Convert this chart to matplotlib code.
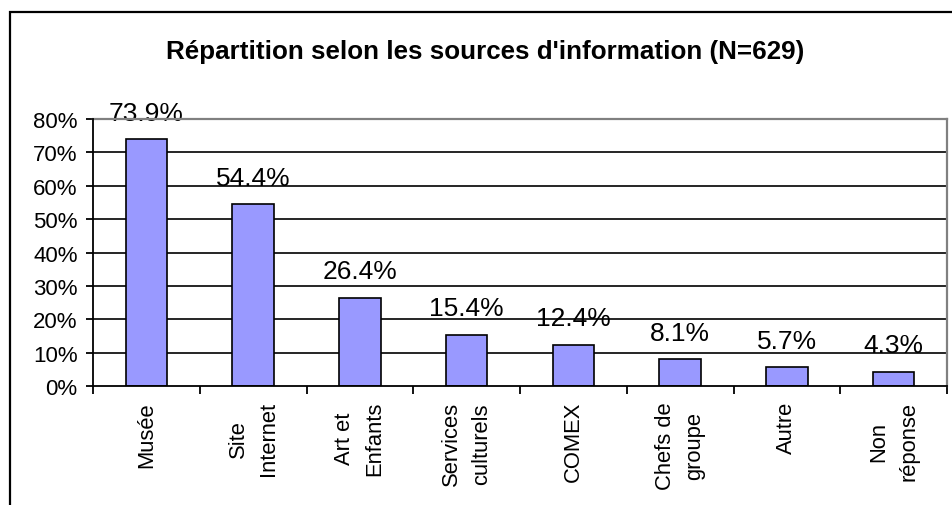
import matplotlib
matplotlib.use("Agg")
import matplotlib.pyplot as plt
from matplotlib.patches import Rectangle
from matplotlib.ticker import MultipleLocator, FuncFormatter

plt.rcParams['font.family'] = ['Liberation Sans', 'DejaVu Sans']

categories = ["Musée", "Site\nInternet", "Art et\nEnfants", "Services\nculturels",
              "COMEX", "Chefs de\ngroupe", "Autre", "Non\nréponse"]
values = [73.9, 54.4, 26.4, 15.4, 12.4, 8.1, 5.7, 4.3]
value_labels = ["73.9%", "54.4%", "26.4%", "15.4%", "12.4%", "8.1%", "5.7%", "4.3%"]
title = "Répartition selon les sources d'information (N=629)"

W, H = 952, 506
fig = plt.figure(figsize=(W / 100, H / 100), dpi=100)

# outer frame (extends beyond right/bottom edges)
fig.patches.append(Rectangle((10 / W, -0.1), 1.2, 1 - 13 / H + 0.1,
                             transform=fig.transFigure, fill=False,
                             edgecolor='black', linewidth=1.6))

left, right = 93 / W, 947 / W
bottom, top = 1 - 387 / H, 1 - 120 / H
ax = fig.add_axes([left, bottom, right - left, top - bottom])

x = list(range(len(categories)))
ax.bar(x, values, width=0.39, color='#9999FF', edgecolor='black', linewidth=1.2, zorder=3)

ax.set_xlim(-0.5, len(categories) - 0.5)
ax.set_ylim(0, 80)
ax.yaxis.set_major_locator(MultipleLocator(10))
ax.yaxis.set_major_formatter(FuncFormatter(lambda v, p: f"{int(round(v))}%"))
ax.set_yticks(range(0, 81, 10))

for yv in range(10, 80, 10):
    ax.axhline(yv, color='black', linewidth=1.2, zorder=2)

for xi, v, lab in zip(x, values, value_labels):
    ax.annotate(lab, (xi, v), xytext=(0, 14), textcoords='offset points',
                ha='center', va='baseline', fontsize=19, zorder=1)

# spines
ax.spines['left'].set_color('black')
ax.spines['left'].set_linewidth(1.3)
ax.spines['bottom'].set_color('black')
ax.spines['bottom'].set_linewidth(1.3)
ax.spines['top'].set_color('#808080')
ax.spines['top'].set_linewidth(1.6)
ax.spines['right'].set_color('#808080')
ax.spines['right'].set_linewidth(1.6)
ax.spines['left'].set_zorder(4)
ax.spines['bottom'].set_zorder(4)

ax.tick_params(axis='y', direction='out', length=5, width=1.3, labelsize=16, pad=6)
# x ticks at category boundaries
ax.set_xticks([i - 0.5 for i in range(len(categories) + 1)])
ax.set_xticklabels([])
ax.tick_params(axis='x', direction='out', length=6, width=1.3)

for xi, cat in zip(x, categories):
    ax.text(xi, -4.5, cat, rotation=90, ha='center', va='top',
            multialignment='center', fontsize=15.8, linespacing=1.55,
            transform=ax.transData, clip_on=False)

fig.text((165 + 805) / 2 / W, 1 - 52 / H, title, ha='center', va='center',
         fontsize=18.7, fontweight='bold')

fig.savefig("out.png", dpi=100)
